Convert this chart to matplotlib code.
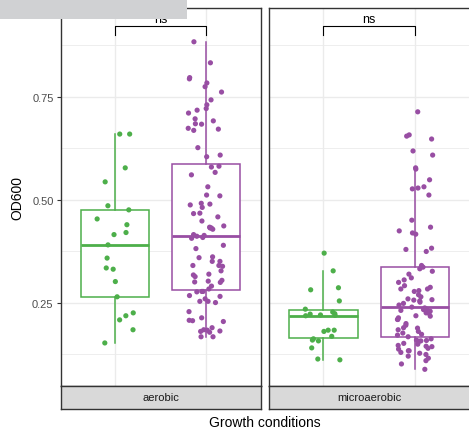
import matplotlib
matplotlib.use('Agg')
import matplotlib.pyplot as plt
from matplotlib.patches import Rectangle
import numpy as np

plt.rcParams['font.family'] = ['Liberation Sans', 'DejaVu Sans']

# values (OD600)
conditions = ['aerobic', 'microaerobic']
colors = ['#4daf4a', '#984ea3']

aerobic_green = [0.660, 0.660, 0.578, 0.544, 0.486, 0.476, 0.454, 0.440, 0.421, 0.416, 0.391,
                 0.359, 0.335, 0.332, 0.302, 0.265, 0.226, 0.219, 0.209, 0.185, 0.153]
aerobic_purple = [0.884, 0.833, 0.797, 0.794, 0.784, 0.775, 0.762, 0.743, 0.731, 0.722, 0.718,
                  0.711, 0.697, 0.692, 0.685, 0.684, 0.674, 0.672, 0.669, 0.627, 0.609, 0.605,
                  0.582, 0.580, 0.567, 0.561, 0.532, 0.512, 0.510, 0.492, 0.490, 0.488, 0.482,
                  0.468, 0.467, 0.459, 0.449, 0.437, 0.434, 0.432, 0.432, 0.429, 0.416, 0.414,
                  0.412, 0.409, 0.407, 0.390, 0.382, 0.362, 0.360, 0.351, 0.351, 0.341, 0.341,
                  0.339, 0.328, 0.320, 0.318, 0.314, 0.305, 0.303, 0.301, 0.300, 0.291, 0.284,
                  0.278, 0.278, 0.277, 0.268, 0.266, 0.260, 0.254, 0.254, 0.251, 0.229, 0.214,
                  0.208, 0.207, 0.205, 0.190, 0.185, 0.184, 0.182, 0.181, 0.179, 0.168, 0.168]
micro_green = [0.371, 0.328, 0.287, 0.282, 0.255, 0.235, 0.228, 0.224, 0.223, 0.221, 0.220,
               0.219, 0.184, 0.184, 0.181, 0.169, 0.163, 0.160, 0.158, 0.141, 0.114, 0.112]
micro_purple = [0.714, 0.658, 0.655, 0.648, 0.619, 0.609, 0.578, 0.575, 0.549, 0.532, 0.529,
                0.527, 0.512, 0.451, 0.434, 0.425, 0.420, 0.417, 0.383, 0.380, 0.375, 0.341,
                0.337, 0.333, 0.327, 0.320, 0.311, 0.306, 0.300, 0.292, 0.288, 0.284, 0.284,
                0.280, 0.278, 0.270, 0.265, 0.260, 0.258, 0.257, 0.255, 0.252, 0.249, 0.245,
                0.240, 0.238, 0.235, 0.234, 0.232, 0.230, 0.226, 0.225, 0.219, 0.218, 0.214,
                0.210, 0.210, 0.200, 0.196, 0.190, 0.189, 0.185, 0.181, 0.177, 0.174, 0.172,
                0.168, 0.163, 0.160, 0.159, 0.158, 0.157, 0.152, 0.150, 0.147, 0.145, 0.144,
                0.140, 0.138, 0.134, 0.134, 0.130, 0.128, 0.125, 0.121, 0.116, 0.110, 0.102,
                0.089]
panel_data = [[aerobic_green, aerobic_purple], [micro_green, micro_purple]]
sig_labels = ['ns', 'ns']

W, H = 469, 435
fig = plt.figure(figsize=(W / 100, H / 100), dpi=100)

def px_axes(x0, y0, x1, y1):
    return fig.add_axes([x0 / W, 1 - y1 / H, (x1 - x0) / W, (y1 - y0) / H])

rng = np.random.default_rng(7)
panel_x = [(60.5, 261), (268.5, 470)]

for i, cond in enumerate(conditions):
    x0, x1 = panel_x[i]
    ax = px_axes(x0, 9, x1, 387)
    data = panel_data[i]
    bp = ax.boxplot(data, positions=[1, 2], widths=0.75, showfliers=False, showcaps=False,
                    patch_artist=True, whis=1.5)
    for j, c in enumerate(colors):
        bp['boxes'][j].set(facecolor='white', edgecolor=c, linewidth=1.1, zorder=2)
        bp['medians'][j].set(color=c, linewidth=2.0, zorder=3)
        for w in bp['whiskers'][2 * j:2 * j + 2]:
            w.set(color=c, linewidth=1.1, zorder=2)
    for j, vals in enumerate(data):
        xs = j + 1 + rng.uniform(-0.2, 0.2, len(vals))
        ax.scatter(xs, vals, s=14, color=colors[j], edgecolors='none', zorder=4)

    # significance bracket
    ax.plot([1, 1, 2, 2], [0.901, 0.923, 0.923, 0.901], color='black', lw=0.8, zorder=5)
    ax.text(1.5, 0.931, sig_labels[i], ha='center', va='baseline', fontsize=9, zorder=5)

    ax.set_xlim(0.4, 2.6)
    ax.set_ylim(0.0485, 0.966)
    ax.set_xticks([1, 2])
    ax.set_yticks([0.25, 0.5, 0.75])
    ax.set_yticks([0.125, 0.375, 0.625, 0.875], minor=True)
    ax.grid(which='major', color='#ebebeb', lw=1.0)
    ax.grid(which='minor', axis='y', color='#ebebeb', lw=0.6)
    ax.set_axisbelow(True)
    ax.tick_params(axis='x', length=0, labelbottom=False)
    ax.tick_params(axis='y', which='minor', length=0)
    if i == 0:
        ax.set_yticklabels(['0.25', '0.50', '0.75'])
        ax.tick_params(axis='y', which='major', length=3, width=0.8, color='#333333',
                       labelsize=8, labelcolor='#4d4d4d', pad=2)
    else:
        ax.tick_params(axis='y', which='major', length=0, labelleft=False)
    for s in ax.spines.values():
        s.set_color('#333333')
        s.set_linewidth(1.0)

    sax = px_axes(x0, 387, x1, 410)
    sax.set_facecolor('#d9d9d9')
    sax.set_xticks([])
    sax.set_yticks([])
    for s in sax.spines.values():
        s.set_color('#333333')
        s.set_linewidth(1.0)
    sax.text(0.5, 0.5, cond, ha='center', va='center', fontsize=8, color='#1a1a1a',
             transform=sax.transAxes)

fig.text(17 / W, 1 - 198 / H, 'OD600', rotation=90, ha='center', va='center', fontsize=10)
fig.text(264.5 / W, 1 - 423 / H, 'Growth conditions', ha='center', va='center', fontsize=10)

# grey block covering the top-left corner in the reference
fig.add_artist(Rectangle((0, 1 - 20 / H), 187 / W, 20 / H, transform=fig.transFigure,
                         facecolor='#d0d1d3', edgecolor='none', zorder=10))

fig.savefig('out.png', dpi=100)
